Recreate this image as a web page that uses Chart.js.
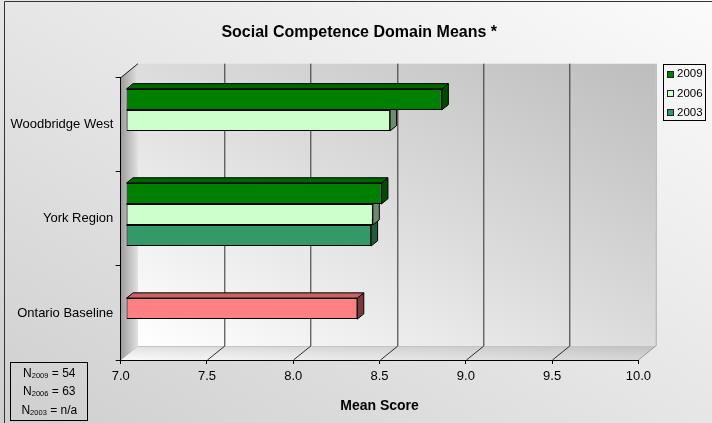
<!DOCTYPE html>
<html>
<head>
<meta charset="utf-8">
<script src="https://cdn.jsdelivr.net/npm/chart.js@4.4.1/dist/chart.umd.min.js"></script>
<style>
html, body { margin: 0; padding: 0; background: #ffffff; }
#wrap { width: 712px; height: 423px; position: relative; }
canvas { display: block; }
</style>
</head>
<body>
<div id="wrap"><canvas id="c" width="712" height="423"></canvas></div>
<script>
// ---- data ----
const categories = ['Woodbridge West', 'York Region', 'Ontario Baseline'];
const seriesLabels = ['2009', '2006', '2003'];
const values2009 = [8.83, 8.48, null];
const values2006 = [8.53, 8.43, null];
const values2003 = [null, 8.42, null];
const baselineLabel = 'Ontario Baseline';
const baselineValues = [null, null, 8.34];
const xTickValues = [7.0, 7.5, 8.0, 8.5, 9.0, 9.5, 10.0];
const chartTitle = 'Social Competence Domain Means *';
const xAxisTitle = 'Mean Score';
const sampleYears = ['2009', '2006', '2003'];
const sampleSizes = ['54', '63', 'n/a'];

// ---- styling / 3D geometry ----
const FONT = "'Liberation Sans', Arial, sans-serif";
Chart.defaults.font.family = FONT;
const DEPTH = { x: 17.3, y: -14 };
const BAR_FRONT = 0.31;
const BAR_DEPTH = 0.375;

const ds = (label, data, front, top, side, extra) => Object.assign({
  label, data,
  backgroundColor: front, topColor: top, sideColor: side,
  borderColor: '#000000', borderWidth: 1, borderSkipped: false,
  categoryPercentage: 0.67, barPercentage: 1, clip: false,
  base: xTickValues[0]
}, extra || {});

// gradient from bottom-left to top-right corner of a box, isolines along the other diagonal
function diagGradient(ctx, left, top, w, h, stops) {
  const k = 2 * w * h / (w * w + h * h);
  const g = ctx.createLinearGradient(left, top + h, left + h * k, top + h - w * k);
  stops.forEach(s => g.addColorStop(s[0], s[1]));
  return g;
}

const plugin3d = {
  id: 'plugin3d',
  beforeDraw(chart) {
    const { ctx, chartArea: a, scales } = chart;
    const xs = scales.x;
    const W = chart.width, H = chart.height;
    const dx = DEPTH.x, dy = DEPTH.y;
    ctx.save();
    // page background
    ctx.fillStyle = diagGradient(ctx, 0, 0, W, H, [[0, '#cfcfcf'], [0.5, '#e6e6e6'], [1, '#fbfbfb']]);
    ctx.fillRect(0, 0, W, H);
    ctx.strokeStyle = '#333333';
    ctx.lineWidth = 1;
    ctx.beginPath();
    ctx.moveTo(4.5, H); ctx.lineTo(4.5, 1.5); ctx.lineTo(W, 1.5);
    ctx.stroke();

    const x0 = xs.getPixelForValue(xTickValues[0]);
    const x1 = xs.getPixelForValue(xTickValues[xTickValues.length - 1]);
    const yT = a.top, yB = a.bottom;

    // back wall
    ctx.fillStyle = diagGradient(ctx, x0 + dx, yT + dy, x1 - x0, yB - yT,
      [[0, '#ffffff'], [0.5, '#dcdcdc'], [1, '#bdbdbd']]);
    ctx.beginPath();
    ctx.moveTo(x0 + dx, yT + dy); ctx.lineTo(x1 + dx, yT + dy);
    ctx.lineTo(x1 + dx, yB + dy); ctx.lineTo(x0 + dx, yB + dy); ctx.closePath();
    ctx.fill();
    ctx.strokeStyle = '#a8a8a8';
    ctx.beginPath();
    ctx.moveTo(x1 + dx + 0.5, yT + dy); ctx.lineTo(x1 + dx + 0.5, yB + dy);
    ctx.stroke();

    // floor
    let g = ctx.createLinearGradient(x0, yB, x1 + dx, yB + dy);
    g.addColorStop(0, '#f7f7f7');
    g.addColorStop(1, '#cdcdcd');
    ctx.fillStyle = g;
    ctx.beginPath();
    ctx.moveTo(x0, yB); ctx.lineTo(x1, yB);
    ctx.lineTo(x1 + dx, yB + dy); ctx.lineTo(x0 + dx, yB + dy); ctx.closePath();
    ctx.fill();
    g = ctx.createLinearGradient(0, yB + dy, 0, yB);
    g.addColorStop(0, 'rgba(150,150,150,0.25)');
    g.addColorStop(1, 'rgba(255,255,255,0.15)');
    ctx.fillStyle = g;
    ctx.fill();
    ctx.strokeStyle = '#c4c4c4';
    ctx.beginPath();
    ctx.moveTo(x0 + dx, yB + dy + 0.5); ctx.lineTo(x1 + dx, yB + dy + 0.5);
    ctx.moveTo(x0, yB); ctx.lineTo(x0 + dx, yB + dy);
    ctx.stroke();
    ctx.strokeStyle = '#9a9a9a';
    ctx.beginPath();
    ctx.moveTo(x1, yB); ctx.lineTo(x1 + dx, yB + dy);
    ctx.stroke();

    // left wall
    g = ctx.createLinearGradient(x0, 0, x0 + dx, 0);
    g.addColorStop(0, '#9c9c9c');
    g.addColorStop(1, '#e2e2e2');
    ctx.fillStyle = g;
    ctx.beginPath();
    ctx.moveTo(x0, yT); ctx.lineTo(x0 + dx, yT + dy);
    ctx.lineTo(x0 + dx, yB + dy); ctx.lineTo(x0, yB); ctx.closePath();
    ctx.fill();
    ctx.strokeStyle = '#1a1a1a';
    ctx.beginPath();
    ctx.moveTo(x0, yT); ctx.lineTo(x0 + dx, yT + dy);
    ctx.stroke();

    // gridlines on back wall and floor
    ctx.strokeStyle = '#2e2e2e';
    ctx.lineWidth = 1;
    ctx.beginPath();
    for (let i = 1; i < xTickValues.length - 1; i++) {
      const px = Math.round(xs.getPixelForValue(xTickValues[i])) + 0.5;
      ctx.moveTo(px + dx, yT + dy); ctx.lineTo(px + dx, yB + dy);
      ctx.moveTo(px, yB); ctx.lineTo(px + dx, yB + dy);
    }
    ctx.stroke();
    ctx.restore();
  },
  beforeDatasetDraw(chart, args) {
    const { ctx } = chart;
    const dset = chart.data.datasets[args.index];
    ctx.save();
    ctx.translate(BAR_FRONT * DEPTH.x, BAR_FRONT * DEPTH.y);
    const bx = BAR_DEPTH * DEPTH.x, by = BAR_DEPTH * DEPTH.y;
    args.meta.data.forEach((el, j) => {
      if (dset.data[j] === null || dset.data[j] === undefined) return;
      const p = el.getProps(['x', 'y', 'base', 'height'], true);
      const left = Math.min(p.base, p.x), right = Math.max(p.base, p.x);
      const top = p.y - p.height / 2, bot = p.y + p.height / 2;
      ctx.lineWidth = 1;
      ctx.strokeStyle = '#000000';
      ctx.lineJoin = 'miter';
      // right face
      ctx.fillStyle = dset.sideColor;
      ctx.beginPath();
      ctx.moveTo(right, top); ctx.lineTo(right + bx, top + by);
      ctx.lineTo(right + bx, bot + by); ctx.lineTo(right, bot); ctx.closePath();
      ctx.fill(); ctx.stroke();
      // top face
      ctx.fillStyle = dset.topColor;
      ctx.beginPath();
      ctx.moveTo(left, top); ctx.lineTo(left + bx, top + by);
      ctx.lineTo(right + bx, top + by); ctx.lineTo(right, top); ctx.closePath();
      ctx.fill(); ctx.stroke();
    });
  },
  afterDatasetDraw(chart) {
    chart.ctx.restore();
  },
  afterDraw(chart) {
    const { ctx } = chart;
    ctx.save();
    // legend
    const lx = 663, ly = 64.5, lw = 42, lh = 56;
    ctx.strokeStyle = '#000000';
    ctx.lineWidth = 1;
    ctx.strokeRect(lx + 0.5, ly, lw, lh);
    ctx.font = '11.5px ' + FONT;
    ctx.textBaseline = 'middle';
    ctx.textAlign = 'left';
    const legendSets = chart.data.datasets.filter(d => seriesLabels.includes(d.label));
    legendSets.forEach((d, i) => {
      const cy = 73.7 + i * 19.2;
      ctx.fillStyle = d.backgroundColor;
      ctx.fillRect(667.5, Math.round(cy - 3) + 0.5, 6, 6);
      ctx.strokeStyle = '#222222';
      ctx.strokeRect(667.5, Math.round(cy - 3) + 0.5, 6, 6);
      ctx.fillStyle = '#000000';
      ctx.fillText(d.label, 677, cy + 0.5);
    });
    // sample-size box
    ctx.strokeStyle = '#000000';
    ctx.strokeRect(10.5, 362.5, 77, 58);
    const big = '12px ' + FONT, small = '7.5px ' + FONT;
    ctx.textBaseline = 'alphabetic';
    sampleYears.forEach((yr, i) => {
      const base = 376.6 + i * 18.7;
      const rest = ' = ' + sampleSizes[i];
      ctx.font = big; const wN = ctx.measureText('N').width; const wR = ctx.measureText(rest).width;
      ctx.font = small; const wS = ctx.measureText(yr).width;
      let sx = 49.3 - (wN + wS + wR) / 2;
      ctx.fillStyle = '#000000';
      ctx.font = big; ctx.fillText('N', sx, base); sx += wN;
      ctx.font = small; ctx.fillText(yr, sx, base + 1); sx += wS;
      ctx.font = big; ctx.fillText(rest, sx, base);
    });
    ctx.restore();
  }
};

new Chart(document.getElementById('c'), {
  type: 'bar',
  data: {
    labels: categories,
    datasets: [
      ds(seriesLabels[0], values2009, '#008000', '#006600', '#004d00'),
      ds(seriesLabels[1], values2006, '#ccffcc', '#a3cca3', '#6d8c6d'),
      ds(seriesLabels[2], values2003, '#339966', '#297a52', '#1f5c3d'),
      ds(baselineLabel, baselineValues, '#ff8080', '#c86464', '#7a3a3a', { grouped: false, barPercentage: 1 / 3 })
    ]
  },
  options: {
    indexAxis: 'y',
    responsive: false,
    animation: false,
    devicePixelRatio: 1,
    layout: { padding: { left: 6.4, right: 0, top: 0, bottom: 0 } },
    plugins: {
      legend: { display: false },
      tooltip: { enabled: false },
      title: {
        display: true, text: chartTitle, color: '#000000',
        font: { size: 16, weight: 'bold' },
        padding: { top: 22.7, bottom: 35.8 }
      }
    },
    scales: {
      x: {
        type: 'linear', min: xTickValues[0], max: xTickValues[xTickValues.length - 1],
        afterBuildTicks: s => { s.ticks = xTickValues.map(v => ({ value: v })); },
        ticks: { callback: v => Number(v).toFixed(1), font: { size: 13 }, color: '#000000', padding: 4.9, maxRotation: 0, autoSkip: false },
        grid: { drawOnChartArea: false, drawTicks: true, tickLength: 4, color: '#000000' },
        border: { display: true, color: '#000000', width: 1 },
        title: { display: true, text: xAxisTitle, color: '#000000', font: { size: 14, weight: 'bold' }, padding: { top: 4, bottom: 8.6 } },
        afterFit: s => { s.height = 63; }
      },
      y: {
        type: 'category', offset: true,
        ticks: { font: { size: 13 }, color: '#000000', padding: 2.4 },
        grid: { drawOnChartArea: false, drawTicks: true, tickLength: 5, color: '#000000', offset: true },
        border: { display: true, color: '#000000', width: 1 },
        afterFit: s => { s.width = 114.3; }
      },
      yRight: {
        type: 'linear', axis: 'y', position: 'right', display: true,
        grid: { display: false }, ticks: { display: false }, border: { display: false },
        afterFit: s => { s.width = 73.6; }
      }
    }
  },
  plugins: [plugin3d]
});
</script>
</body>
</html>
